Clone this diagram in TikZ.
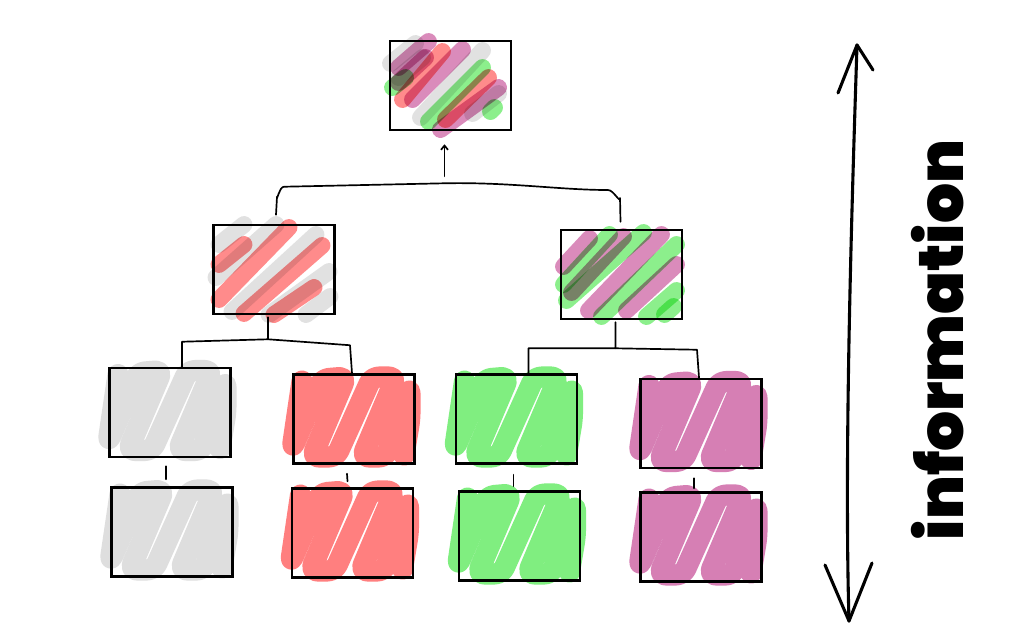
\documentclass[tikz,border=0pt]{standalone}
\usepackage{fontspec}
\newfontfamily\infofont{Poppins}[UprightFont=* Black]
\usetikzlibrary{arrows.meta,calc}
\pgfdeclarelayer{bg}
\pgfsetlayers{bg,main}
\definecolor{sgray}{HTML}{DEDEDE}
\definecolor{sred}{HTML}{FF7F7F}
\definecolor{sgreen}{HTML}{80EE80}
\definecolor{spurple}{HTML}{D67FB4}
\newcommand\zigfill[2]{%
  \begin{scope}[shift={(#1.center)}]
    \draw[zig, draw=#2] (-52,-38) -- (-62,30) -- (-32,-40) -- (-8,-42) -- (-42,38) -- (-18,38) -- (18,-42) -- (42,-42) -- (8,38) -- (32,38) -- (56,-32) -- (56,0) -- (50,36);
  \end{scope}}
\begin{document}
\begin{tikzpicture}[x=0.025cm, y=-0.025cm,
  box/.style={draw, line width=1.8pt, minimum width=3.025cm, minimum height=2.225cm, inner sep=0pt},
  conn/.style={line width=1.2pt, line join=round, line cap=round},
  stripe/.style={line width=12pt, line cap=round, opacity=0.9, blend mode=multiply},
  zig/.style={line width=15pt, line cap=round, line join=round, rounded corners=5pt}]
\useasboundingbox (0,0) rectangle (1024,641);

% boxes
\node[box] (T)  at (450.5,85.5) {};
\node[box] (ML) at (274,269.5) {};
\node[box] (MR) at (621.5,274.5) {};
\node[box] (B1) at (170,412.5) {};
\node[box] (B2) at (354,419) {};
\node[box] (B3) at (516.5,419) {};
\node[box] (B4) at (701,423.5) {};
\node[box] (C1) at (172,532) {};
\node[box] (C2) at (352.5,533) {};
\node[box] (C3) at (519.5,536) {};
\node[box] (C4) at (701,537) {};

\begin{pgfonlayer}{bg}
  \fill[white] (0,0) rectangle (1024,641);
  \zigfill{B1}{sgray}
  \zigfill{C1}{sgray}
  \zigfill{B2}{sred}
  \zigfill{C2}{sred}
  \zigfill{B3}{sgreen}
  \zigfill{C3}{sgreen}
  \zigfill{B4}{spurple}
  \zigfill{C4}{spurple}
  % middle left: gray + red
  \begin{scope}[shift={(ML.center)}]
    \draw[stripe, sgray] (-55,-25) -- (-30,-45);
    \draw[stripe, sgray] (-58,8) -- (2,-45);
    \draw[stripe, sgray] (-42,42) -- (42,-35);
    \draw[stripe, sgray] (-5,45) -- (55,2);
    \draw[stripe, sgray] (32,45) -- (56,27);
    \draw[stripe, sred] (-55,-5) -- (-30,-25);
    \draw[stripe, sred] (-55,30) -- (15,-42);
    \draw[stripe, sred] (-30,44) -- (48,-24);
    \draw[stripe, sred] (0,45) -- (40,18);
  \end{scope}
  % middle right: purple + green
  \begin{scope}[shift={(MR.center)}]
    \draw[stripe, spurple] (-58,-8) -- (-32,-36);
    \draw[stripe, sgreen] (-58,10) -- (-12,-40);
    \draw[stripe, spurple] (-50,18) -- (2,-38);
    \draw[stripe, sgreen] (-55,26) -- (22,-42);
    \draw[stripe, spurple] (-33,36) -- (40,-40);
    \draw[stripe, sgreen] (-20,42) -- (55,-30);
    \draw[stripe, spurple] (5,36) -- (55,-10);
    \draw[stripe, sgreen] (25,42) -- (55,16);
    \draw[stripe, sgreen] (43,40) -- (52,32);
  \end{scope}
  % top: all four
  \begin{scope}[shift={(T.center)}]
    \draw[stripe, sgray] (-60,-22) -- (-35,-42);
    \draw[stripe, spurple] (-52,-18) -- (-22,-44);
    \draw[stripe, sgray] (-52,-8) -- (-28,-28);
    \draw[stripe, sgreen] (-58,2) -- (-45,-8);
    \draw[stripe, spurple] (-52,-3) -- (-25,-28);
    \draw[stripe, sred] (-48,14) -- (-8,-34);
    \draw[stripe, spurple] (-38,14) -- (12,-36);
    \draw[stripe, sgray] (-30,32) -- (32,-35);
    \draw[stripe, sgreen] (-22,36) -- (32,-18);
    \draw[stripe, sred] (-5,34) -- (38,-8);
    \draw[stripe, spurple] (-10,44) -- (48,2);
    \draw[stripe, sgray] (22,28) -- (48,8);
    \draw[stripe, sgreen] (40,26) -- (44,22);
  \end{scope}
\end{pgfonlayer}

% bracket and arrow to the top
\coordinate (bm) at ($(T.south)+(-6,52)$);
\draw[conn] ($(ML.north)+(2,-9)$) -- ++(1,-18) to[out=-90,in=180] ++(7,-10)
   -- (bm) .. controls (510,182) and (560,190) .. (608,190)
   to[out=0,in=-90] (620,198) -- ($(MR.north)+(-1,-7)$);
\draw[conn, -{Straight Barb[length=3pt,width=5pt]}] ($(bm)+(0,-7)$) -- ($(T.south)+(-6,13)$);

% middle left subtree
\coordinate (mlj) at ($(ML.south)+(-6,24)$);
\draw[conn] ($(ML.south)+(-6,2)$) -- (mlj) -- ($(B1.north)+(12,-25)$) -- ($(B1.north)+(12,0)$);
\draw[conn] (mlj) -- ($(B2.north)+(-4,-28)$) -- ($(B2.north)+(-2,0)$);
% middle right subtree
\coordinate (mrj) at ($(MR.south)+(-6,28)$);
\draw[conn] ($(MR.south)+(-6,2)$) -- (mrj) -- ($(B3.north)+(12,-25)$) -- ($(B3.north)+(12,0)$);
\draw[conn] (mrj) -- ($(B4.north)+(-4,-28)$) -- ($(B4.north)+(-2,0)$);

% ticks between rows
\draw[conn] ($(B1.south)+(-4,8)$) -- ($(C1.north)+(-6,-7)$);
\draw[conn] ($(B2.south)+(-7,9)$) -- ($(C2.north)+(-5,-6)$);
\draw[conn] ($(B3.south)+(-3,10)$) -- ($(C3.north)+(-6,-4)$);
\draw[conn] ($(B4.south)+(-7,9)$) -- ($(C4.north)+(-7,-3)$);

% information double arrow
\coordinate (up) at (857,45);
\coordinate (dn) at (849,621);
\draw[line width=2.2pt, line cap=round] (up) .. controls (852,200) and (844,450) .. (dn);
\draw[line width=2.2pt, line cap=round, line join=round] (838,93) -- (up) -- (873,70);
\draw[line width=2.2pt, line cap=round, line join=round] (825,565) -- (dn) -- (872,563);

\node[rotate=90, inner sep=0pt, font=\infofont] (info) at (938,340) {\resizebox{10cm}{!}{information}};
\end{tikzpicture}
\end{document}
